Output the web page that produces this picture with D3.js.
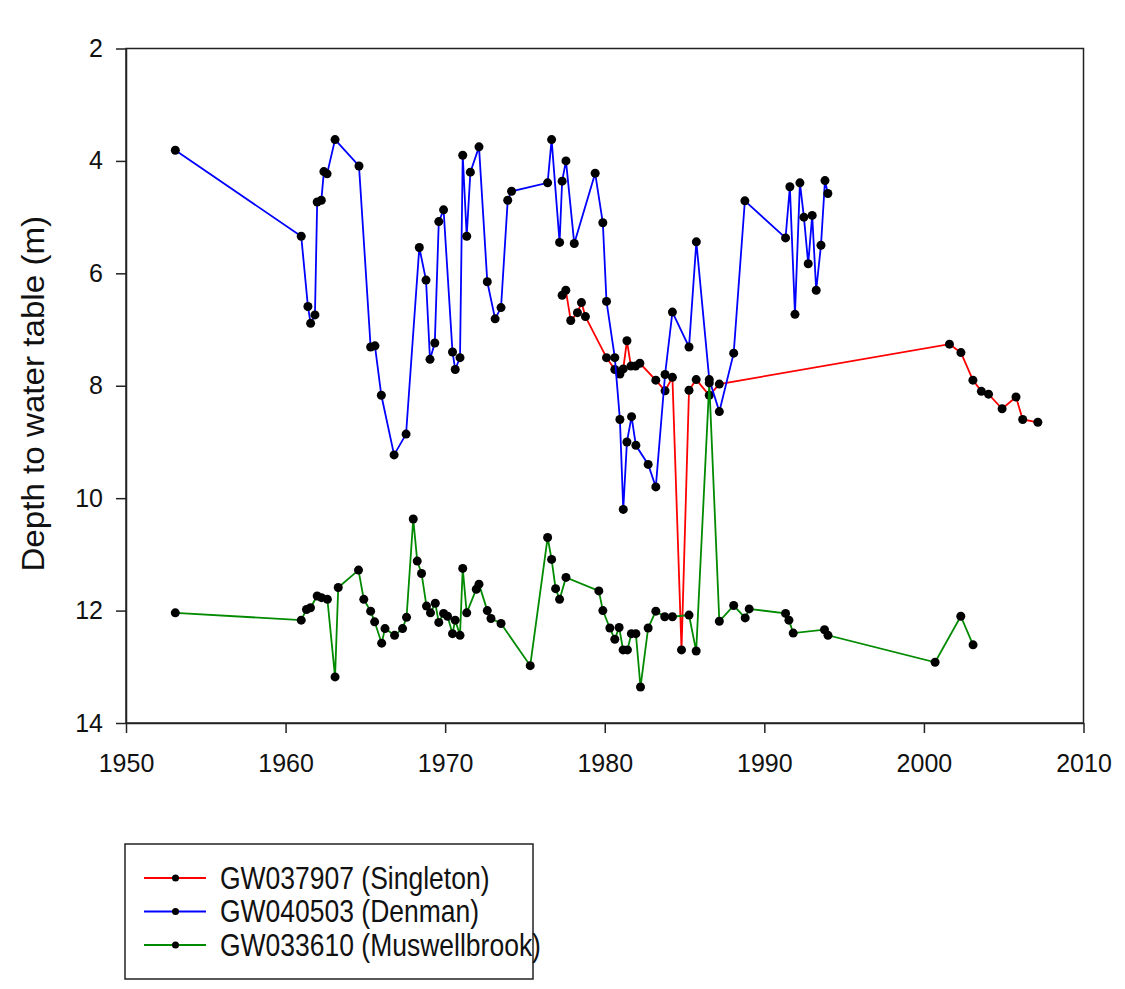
<!DOCTYPE html>
<html lang="en">
<head>
    <meta charset="UTF-8">
    <title>Depth to water table</title>
    <script src="https://d3js.org/d3.v7.min.js"></script>
    <style>
        body { margin: 0; background: #fff; }
        text { font-family: "Liberation Sans", Arial, sans-serif; fill: #111; }
    </style>
</head>
<body>

<script>

    // GW037907 (Singleton) - red
    var singletonYears = [1977.33, 1977.56, 1977.87, 1978.29, 1978.54, 1978.79, 1980.11, 1980.63, 1980.95, 1981.16,
        1981.39, 1981.64, 1981.93, 1982.20, 1983.20, 1983.78, 1984.24, 1984.81, 1985.28, 1985.73,
        1986.55, 1987.18, 2001.60, 2002.32, 2003.07, 2003.60, 2004.05, 2004.90, 2005.77, 2006.19, 2007.14];
    var singletonDepth = [6.39, 6.30, 6.84, 6.70, 6.52, 6.77, 7.50, 7.71, 7.79, 7.70,
        7.20, 7.65, 7.65, 7.60, 7.90, 8.09, 7.85, 12.70, 8.08, 7.89,
        8.17, 7.97, 7.26, 7.41, 7.90, 8.10, 8.15, 8.41, 8.20, 8.60, 8.65];

    // GW040503 (Denman) - blue
    var denmanYears = [1953.09, 1960.98, 1961.40, 1961.57, 1961.84, 1961.98, 1962.24, 1962.40, 1962.60, 1963.10,
        1964.60, 1965.33, 1965.60, 1966.00, 1966.80, 1967.55, 1968.38, 1968.80, 1969.05, 1969.35,
        1969.60, 1969.90, 1970.46, 1970.63, 1970.93, 1971.10, 1971.35, 1971.58, 1972.12, 1972.64,
        1973.13, 1973.50, 1973.92, 1974.16, 1976.42, 1976.67, 1977.17, 1977.33, 1977.57, 1978.09,
        1979.40, 1979.88, 1980.11, 1980.63, 1980.95, 1981.16, 1981.39, 1981.68, 1981.95, 1982.72,
        1983.20, 1983.78, 1984.24, 1985.28, 1985.74, 1986.55, 1987.18, 1988.08, 1988.78, 1991.33,
        1991.60, 1991.92, 1992.23, 1992.48, 1992.75, 1993.00, 1993.25, 1993.55, 1993.80, 1993.98];
    var denmanDepth = [3.81, 5.34, 6.59, 6.89, 6.74, 4.73, 4.70, 4.19, 4.23, 3.62,
        4.09, 7.31, 7.29, 8.17, 9.23, 8.86, 5.54, 6.12, 7.53, 7.24,
        5.08, 4.87, 7.40, 7.71, 7.50, 3.90, 5.34, 4.20, 3.75, 6.15,
        6.81, 6.61, 4.70, 4.54, 4.39, 3.62, 5.45, 4.36, 4.00, 5.47,
        4.22, 5.10, 6.50, 7.50, 8.60, 10.20, 9.00, 8.55, 9.06, 9.40,
        9.80, 7.80, 6.69, 7.31, 5.44, 7.89, 8.46, 7.42, 4.71, 5.37,
        4.46, 6.73, 4.39, 5.00, 5.83, 4.97, 6.30, 5.50, 4.35, 4.58];

    // GW033610 (Muswellbrook) - green
    var muswellYears = [1953.09, 1960.98, 1961.31, 1961.56, 1961.98, 1962.25, 1962.62, 1963.10, 1963.30, 1964.57,
        1964.90, 1965.33, 1965.58, 1966.02, 1966.23, 1966.83, 1967.33, 1967.58, 1968.00, 1968.25,
        1968.52, 1968.83, 1969.08, 1969.38, 1969.60, 1969.90, 1970.15, 1970.46, 1970.63, 1970.93,
        1971.10, 1971.35, 1971.95, 1972.12, 1972.64, 1972.87, 1973.50, 1975.33, 1976.42, 1976.67,
        1976.92, 1977.17, 1977.57, 1979.63, 1979.88, 1980.32, 1980.63, 1980.90, 1981.15, 1981.42,
        1981.67, 1981.95, 1982.24, 1982.72, 1983.20, 1983.76, 1984.24, 1985.28, 1985.73, 1986.55,
        1987.18, 1988.08, 1988.80, 1989.05, 1991.33, 1991.54, 1991.81, 1993.77, 1993.99, 2000.70,
        2002.31, 2003.08];
    var muswellDepth = [12.04, 12.17, 11.98, 11.95, 11.74, 11.77, 11.80, 13.18, 11.59, 11.28,
        11.80, 12.01, 12.20, 12.58, 12.32, 12.44, 12.32, 12.12, 10.37, 11.12,
        11.34, 11.92, 12.04, 11.87, 12.21, 12.05, 12.10, 12.41, 12.17, 12.44,
        11.25, 12.04, 11.62, 11.53, 12.00, 12.14, 12.23, 12.98, 10.70, 11.09,
        11.61, 11.80, 11.41, 11.65, 12.00, 12.31, 12.51, 12.30, 12.70, 12.70,
        12.41, 12.41, 13.36, 12.31, 12.01, 12.11, 12.11, 12.08, 12.72, 7.95,
        12.19, 11.91, 12.13, 11.97, 12.05, 12.17, 12.40, 12.34, 12.44, 12.92,
        12.10, 12.61];

    var seriesNames = ["GW037907 (Singleton)", "GW040503 (Denman)", "GW033610 (Muswellbrook)"];
    var seriesColors = ["#ff0000", "#0000ff", "#008a00"];
    var xTicks = [1950, 1960, 1970, 1980, 1990, 2000, 2010];
    var yTicks = [2, 4, 6, 8, 10, 12, 14];

    var svgWidth = 1125, svgHeight = 989;
    var plotLeft = 126, plotRight = 1083.5, plotTop = 48.5, plotBottom = 723;

    var svg = d3.select("body")
        .append("svg")
        .attr("width", svgWidth)
        .attr("height", svgHeight);

    var xScale = d3.scaleLinear().domain([1950, 2010]).range([plotLeft, plotRight]);
    var yScale = d3.scaleLinear().domain([2, 14]).range([plotTop, plotBottom]);

    function zip(xs, ys) {
        return xs.map(function (x, i) { return {year: x, depth: ys[i]}; });
    }
    var series = [
        zip(singletonYears, singletonDepth),
        zip(denmanYears, denmanDepth),
        zip(muswellYears, muswellDepth)
    ];

    // frame
    svg.append("rect")
        .attr("x", plotLeft).attr("y", plotTop)
        .attr("width", plotRight - plotLeft).attr("height", plotBottom - plotTop)
        .attr("fill", "none").attr("stroke", "#222").attr("stroke-width", 1.5);

    var yAxis = svg.append("g")
        .attr("transform", "translate(" + plotLeft + ",0)")
        .call(d3.axisLeft(yScale).tickValues(yTicks).tickSize(10).tickPadding(13).tickSizeOuter(0));
    var xAxis = svg.append("g")
        .attr("transform", "translate(0," + plotBottom + ")")
        .call(d3.axisBottom(xScale).tickValues(xTicks).tickFormat(d3.format("d")).tickSize(10).tickPadding(21).tickSizeOuter(0));

    [xAxis, yAxis].forEach(function (g) {
        g.select(".domain").attr("stroke", "#222").attr("stroke-width", 1.5);
        g.selectAll(".tick line").attr("stroke", "#222").attr("stroke-width", 1.5);
        g.selectAll(".tick text").attr("font-size", 25).attr("font-family", "Liberation Sans, Arial, sans-serif").attr("fill", "#111");
    });

    // the reference text is drawn a little taller than wide
    svg.append("text")
        .attr("transform", "translate(44," + ((plotTop + plotBottom) / 2 + 8) + ") rotate(-90) scale(1.07,1)")
        .attr("text-anchor", "middle")
        .attr("font-size", 31)
        .text("Depth to water table (m)");

    var line = d3.line()
        .x(function (d) { return xScale(d.year); })
        .y(function (d) { return yScale(d.depth); });

    series.forEach(function (data, k) {
        var g = svg.append("g");
        g.append("path")
            .datum(data)
            .attr("d", line)
            .attr("fill", "none")
            .attr("stroke", seriesColors[k])
            .attr("stroke-width", 1.8);
        g.selectAll("circle").data(data).enter().append("circle")
            .attr("cx", function (d) { return xScale(d.year); })
            .attr("cy", function (d) { return yScale(d.depth); })
            .attr("r", 4.5)
            .attr("fill", "black");
    });

    // legend
    var legend = svg.append("g");
    legend.append("rect")
        .attr("x", 125).attr("y", 844)
        .attr("width", 408).attr("height", 135)
        .attr("fill", "none").attr("stroke", "#222").attr("stroke-width", 1.5);

    var rows = legend.selectAll("g.row").data(seriesNames).enter().append("g")
        .attr("class", "row")
        .attr("transform", function (d, i) { return "translate(0," + (878 + i * 33.5) + ")"; });
    rows.append("line")
        .attr("x1", 144).attr("x2", 206)
        .attr("stroke", function (d, i) { return seriesColors[i]; })
        .attr("stroke-width", 1.8);
    rows.append("circle")
        .attr("cx", 175.5).attr("r", 3.5).attr("fill", "black");
    rows.append("text")
        .attr("x", 220).attr("dy", "0.36em")
        .attr("transform", "scale(1,1.15)")
        .attr("font-size", 26.5)
        .text(function (d) { return d; });

</script>

</body>
</html>
